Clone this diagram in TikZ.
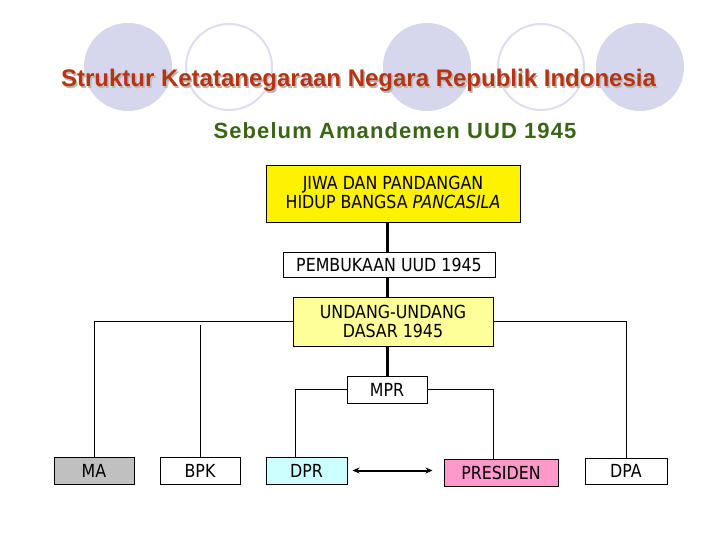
\documentclass[tikz,border=0pt]{standalone}
\usepackage{fontspec}
\setmainfont{Liberation Sans}
\newfontfamily\boxfont{DejaVu Sans}[FakeStretch=0.88]
\newfontfamily\subfont{Liberation Sans}[LetterSpace=5]
\usetikzlibrary{arrows.meta}
\definecolor{lav}{RGB}{214,214,236}
\definecolor{lavring}{RGB}{222,222,238}
\definecolor{titlered}{RGB}{182,52,18}
\definecolor{subgreen}{RGB}{58,100,22}
\definecolor{lightyel}{RGB}{255,255,153}
\definecolor{lightcyan}{RGB}{204,255,255}
\definecolor{pinkbox}{RGB}{255,153,204}
\definecolor{greybox}{RGB}{192,192,192}
\tikzset{
  orgbox/.style={draw=black, line width=1pt, inner sep=0pt, align=center,
    font=\boxfont\fontsize{18}{19}\selectfont},
  thin/.style={line width=1pt},
  thickline/.style={line width=3pt},
}
\begin{document}
\begin{tikzpicture}[x=1pt,y=-1pt]
\useasboundingbox[fill=white] (0,0) rectangle (720,540);
% decorative circles
\fill[lav] (128,67) circle (44);
\fill[lav] (427,67) circle (44);
\fill[lav] (640,67) circle (44);
\draw[lavring, line width=2pt] (229,67) circle (43);
\draw[lavring, line width=2pt] (541,67) circle (43);
% titles
\node[anchor=base, text=gray!55, font=\fontsize{24}{28}\selectfont\bfseries] (titleshadow) at (360,88.5) {Struktur Ketatanegaraan Negara Republik Indonesia};
\node[anchor=base, text=titlered, font=\fontsize{24}{28}\selectfont\bfseries] (title) at (358.5,87) {Struktur Ketatanegaraan Negara Republik Indonesia};
\node[anchor=base, text=subgreen, font=\subfont\fontsize{22}{26}\selectfont\bfseries] (subtitle) at (395,139) {Sebelum Amandemen UUD 1945};
% boxes
\node[orgbox, fill=yellow, minimum width=254, minimum height=57, text depth=4pt] (jiwa) at (393,194.5) {JIWA DAN PANDANGAN\\HIDUP BANGSA \textit{PANCASILA}};
\node[orgbox, fill=white, minimum width=212, minimum height=25] (pemb) at (389,264.5) {PEMBUKAAN UUD 1945};
\node[orgbox, fill=lightyel, minimum width=200, minimum height=49] (uud) at (393,321.5) {UNDANG-UNDANG\\DASAR 1945};
\node[orgbox, fill=white, minimum width=80, minimum height=27] (mpr) at (387,389.5) {MPR};
\node[orgbox, fill=greybox, minimum width=80, minimum height=27] (ma) at (94,470.5) {MA};
\node[orgbox, fill=white, minimum width=80, minimum height=27] (bpk) at (200,470.5) {BPK};
\node[orgbox, fill=lightcyan, minimum width=81, minimum height=27] (dpr) at (306.5,470.5) {DPR};
\node[orgbox, fill=pinkbox, minimum width=114, minimum height=27] (pres) at (501,472.5) {PRESIDEN};
\node[orgbox, fill=white, minimum width=82, minimum height=26] (dpa) at (626,471) {DPA};
% thick spine
\draw[thickline] (jiwa.south -| mpr.north) -- (pemb.north -| mpr.north);
\draw[thickline] (pemb.south -| mpr.north) -- (uud.north -| mpr.north);
\draw[thickline] (uud.south -| mpr.north) -- (mpr.north);
% side branches
\draw[thin] (uud.west) -- (uud.west -| ma.north) -- (ma.north);
\coordinate (bpktop) at (200,325);
\draw[thin] (bpk.north) -- (bpktop);
\draw[thin] (uud.east) -- (uud.east -| dpa.north) -- (dpa.north);
% MPR branches
\coordinate (dprtop) at ([xshift=-11.5pt]dpr.north);
\coordinate (prestop) at ([xshift=-8pt]pres.north);
\draw[thin] (mpr.west) -- (mpr.west -| dprtop) -- (dprtop);
\draw[thin] (mpr.east) -- (mpr.east -| prestop) -- (prestop);
% arrow
\coordinate (arrR) at ([xshift=-11pt]pres.west |- dpr.east);
\draw[line width=2pt, {Stealth[length=7pt,width=6pt]}-{Stealth[length=7pt,width=6pt]}] ([xshift=5pt]dpr.east) -- (arrR);
\end{tikzpicture}
\end{document}
